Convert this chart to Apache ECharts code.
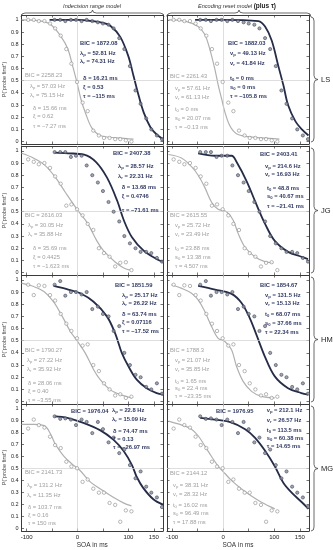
<!DOCTYPE html>
<html><head><meta charset="utf-8">
<script src="https://cdn.jsdelivr.net/npm/echarts@6/dist/echarts.min.js"></script>
<style>html,body{margin:0;padding:0;background:#fff}#c{width:333px;height:550px}</style>
</head><body><div id="c"></div>
<script>
// ---------------- DATA ----------------
const subjects = ['LS', 'JG', 'HM', 'MG'];
const xTickValues = [-100, -50, 0, 50, 100, 150];
const xLabelValues = [-100, 0, 100, 150];
const yTickValues = [0, 0.1, 0.2, 0.3, 0.4, 0.5, 0.6, 0.7, 0.8, 0.9, 1];

// observed proportions (shared by both model columns)
const lsGrayX = [-97,-86,-76,-65,-54,-44,-33,-22,-12,-1,10,20,31,42,52,63,74,84,95,106];
const lsGrayY = [1.0,1.0,0.99,0.99,0.97,0.93,0.87,0.76,0.64,0.49,0.32,0.25,0.09,0.05,0.03,0.03,0.02,0.02,0.01,0.0];
const lsDarkX = [-45,-34,-24,-13,-3,8,18,29,40,50,61,71,82,92,103,114,124,135,145,156,166];
const lsDarkY = [1.0,1.0,0.99,1.0,1.0,0.99,1.0,0.99,0.98,0.97,0.96,0.93,0.85,0.76,0.62,0.42,0.31,0.19,0.10,0.05,0.02];

const jgGrayX = [-97,-86,-76,-65,-54,-44,-33,-22,-12,-1,10,20,31,42,52,63,74,84,95,106];
const jgGrayY = [0.93,0.91,0.89,0.90,0.86,0.79,0.73,0.55,0.56,0.52,0.47,0.40,0.35,0.20,0.16,0.13,0.05,0.08,0.085,0.02];
const jgDarkX = [-45,-34,-24,-13,-3,8,18,29,40,50,61,71,82,92,103,114,124,135,145,156,166];
const jgDarkY = [0.99,0.99,0.99,0.95,0.96,0.96,0.88,0.80,0.74,0.67,0.58,0.50,0.42,0.30,0.24,0.20,0.17,0.17,0.16,0.12,0.09];

const hmGrayX = [-97,-86,-76,-65,-54,-44,-33,-22,-12,-1,10,20,31,42,52,63,74,84,95,106];
const hmGrayY = [0.96,0.875,0.955,0.95,0.875,0.83,0.72,0.64,0.58,0.52,0.46,0.47,0.30,0.25,0.15,0.10,0.05,0.06,0.03,0.04];
const hmDarkX = [-45,-34,-24,-13,-3,8,18,29,40,50,61,71,82,92,103,114,124,135,145,156,166];
const hmDarkY = [0.96,0.99,0.87,0.90,0.90,0.88,0.90,0.76,0.78,0.72,0.70,0.58,0.62,0.40,0.30,0.22,0.20,0.12,0.10,0.15,0.065];

const mgGrayX = [-97,-86,-76,-65,-54,-44,-33,-22,-12,-1,10,20,31,42,52,63,74,84,95,106];
const mgGrayY = [0.835,0.91,0.864,0.843,0.767,0.697,0.672,0.558,0.518,0.504,0.39,0.41,0.333,0.30,0.30,0.214,0.198,0.057,0.152,0.144];
const mgDarkX = [-45,-34,-24,-13,-3,8,18,29,40,50,61,71,82,92,103,114,124,135,145,156,166];
const mgDarkY = [0.937,0.916,0.92,0.91,0.864,0.91,0.89,0.797,0.89,0.83,0.72,0.76,0.63,0.66,0.53,0.42,0.477,0.35,0.30,0.26,0.18];

// fitted curves: [SOA, P]
const lsIrGrayCurve = [[-110,1.0],[-71,0.99],[-52,0.96],[-32,0.86],[-19,0.76],[-9.5,0.62],[-1,0.485],[6.6,0.35],[16,0.23],[29,0.106],[45,0.05],[78,0.03],[110,0.02]];
const lsIrDarkCurve = [[-55,1.0],[0,1.0],[30,0.99],[50,0.975],[65,0.95],[84,0.86],[100,0.70],[110,0.54],[120,0.38],[130,0.24],[143,0.12],[155,0.06],[168,0.02]];
const lsErGrayCurve = [[-107,1.0],[-75,0.99],[-49,0.945],[-36,0.88],[-26,0.756],[-16,0.59],[-9.5,0.46],[-3,0.35],[3.5,0.24],[13,0.13],[26,0.065],[49,0.04],[75,0.03],[110,0.02]];
const lsErDarkCurve = [[-55,1.0],[-3,1.0],[69,0.99],[82,0.945],[95,0.83],[108,0.62],[118,0.46],[127,0.30],[141,0.17],[154,0.10],[167,0.05]];

const jgIrGrayCurve = [[-110,0.98],[-86,0.94],[-65,0.885],[-43,0.78],[-24,0.66],[-1,0.52],[19,0.41],[38,0.26],[51,0.18],[74,0.087],[90,0.04],[103,0.02]];
const jgIrDarkCurve = [[-45,0.985],[-19,0.98],[13,0.97],[36,0.91],[58,0.78],[78,0.59],[91,0.43],[107,0.29],[130,0.18],[156,0.11],[168,0.09]];
const jgErGrayCurve = [[-107,0.97],[-81,0.94],[-62,0.87],[-49,0.80],[-36,0.70],[-23,0.58],[-10,0.52],[6.5,0.50],[19.6,0.43],[29.4,0.32],[42.5,0.21],[62,0.13],[81.6,0.09],[98,0.08]];
const jgErDarkCurve = [[-49,0.98],[-16,0.96],[16.6,0.96],[26,0.91],[46,0.75],[65,0.56],[82,0.40],[101,0.26],[127,0.17],[153,0.13],[166,0.11]];

const hmIrGrayCurve = [[-110,0.973],[-86,0.945],[-66,0.904],[-47,0.82],[-30,0.70],[-14,0.576],[0,0.494],[15,0.40],[32,0.26],[44.6,0.18],[64,0.098],[84,0.057],[107,0.03]];
const hmIrDarkCurve = [[-47,0.95],[-21,0.924],[5.5,0.89],[31.6,0.82],[57.7,0.70],[74,0.56],[87,0.40],[100,0.29],[116.4,0.18],[136,0.11],[155.6,0.07],[168,0.057]];
const hmErGrayCurve = [[-101.5,0.96],[-81,0.93],[-62,0.89],[-49,0.836],[-36,0.74],[-23,0.62],[-9.8,0.52],[3.3,0.494],[16.4,0.426],[26,0.29],[39,0.166],[55.5,0.084],[75,0.043],[101,0.03]];
const hmErDarkCurve = [[-49,0.95],[-16,0.92],[16.4,0.885],[36,0.81],[52,0.686],[65,0.55],[81.6,0.37],[101,0.207],[127,0.11],[153,0.07],[166,0.057]];

const mgIrGrayCurve = [[-110,0.87],[-84,0.87],[-64,0.856],[-53,0.79],[-43,0.70],[-27,0.605],[-11,0.54],[5,0.485],[25,0.39],[45,0.33],[71,0.26],[90,0.215],[106,0.19]];
const mgIrDarkCurve = [[-45,0.937],[-20,0.925],[10,0.885],[45,0.82],[71,0.74],[91,0.645],[107,0.53],[116,0.435],[129,0.34],[149,0.245],[168,0.2]];
const mgErGrayCurve = [[-107,0.897],[-81,0.864],[-62,0.83],[-49,0.775],[-36,0.69],[-22.5,0.60],[-9.6,0.52],[3.5,0.46],[16.6,0.40],[36,0.33],[56,0.27],[75,0.22],[101,0.165]];
const mgErDarkCurve = [[-45,0.925],[-16,0.91],[16.6,0.885],[43,0.83],[62,0.76],[82,0.65],[101,0.52],[118,0.38],[134,0.30],[154,0.22],[167,0.165]];

// parameter annotations (values)
const irLabels = [['BIC',''],['λ','p'],['λ','r'],['δ',''],['ξ',''],['τ','']];
const erLabels = [['BIC',''],['v','p'],['v','r'],['t','0'],['s','0'],['τ','']];
const lsIrDarkText = ['1872.08','52.81 Hz','74.31 Hz','16.21 ms','0.53','−115 ms'];
const lsIrGrayText = ['2258.23','57.03 Hz','75.15 Hz','15.66 ms','0.62','−7.27 ms'];
const lsErDarkText = ['1882.03','49.13 Hz','41.84 Hz','0 ms','0 ms','−105.8 ms'];
const lsErGrayText = ['2261.43','57.61 Hz','61.13 Hz','0 ms','20.07 ms','−0.13 ms'];
const jgIrDarkText = ['2407.38','28.57 Hz','22.31 Hz','13.68 ms','0.4746','−71.61 ms'];
const jgIrGrayText = ['2616.03','30.05 Hz','35.88 Hz','35.69 ms','0.4425','−1.623 ms'];
const jgErDarkText = ['2403.41','214.6 Hz','16.93 Hz','48.8 ms','40.67 ms','−21.41 ms'];
const jgErGrayText = ['2615.55','25.72 Hz','23.49 Hz','23.88 ms','13.38 ms','4.507 ms'];
const hmIrDarkText = ['1851.59','25.17 Hz','26.22 Hz','63.74 ms','0.07116','−17.52 ms'];
const hmIrGrayText = ['1790.27','27.22 Hz','35.92 Hz','28.06 ms','0.40','−3.55 ms'];
const hmErDarkText = ['1854.67','131.5 Hz','15.13 Hz','68.07 ms','37.66 ms','22.34 ms'];
const hmErGrayText = ['1788.3','21.07 Hz','35.85 Hz','1.65 ms','22.4 ms','−23.35 ms'];
const mgIrDarkText = ['1976.04','22.8 Hz','15.09 Hz','74.47 ms','0.13','−26.97 ms'];
const mgIrGrayText = ['2141.73','131.2 Hz','11.35 Hz','103.7 ms','0.16','150 ms'];
const mgErDarkText = ['1976.95','212.1 Hz','26.57 Hz','113.5 ms','60.38 ms','14.65 ms'];
const mgErGrayText = ['2144.12','38.31 Hz','28.32 Hz','16.02 ms','96.49 ms','17.88 ms'];

// ---------------- LAYOUT / STYLE ----------------
const FONT = '"Liberation Sans", Arial, sans-serif';
const DARK = '#252c47', DARK_TXT = '#323a64', GRAY = '#b0b0b0', GRAY_TXT = '#a0a0a0', FRAME = '#3a3a3a';
const colLeft = [21, 167], colW = 142;
const rowTop = [15, 146, 275, 404], rowH = 129;
const X_MIN = -110, X_MAX = 168, Y_MIN = -0.02, Y_MAX = 1.04;

const pointsBySubject = [
  [lsGrayX, lsGrayY, lsDarkX, lsDarkY],
  [jgGrayX, jgGrayY, jgDarkX, jgDarkY],
  [hmGrayX, hmGrayY, hmDarkX, hmDarkY],
  [mgGrayX, mgGrayY, mgDarkX, mgDarkY]
];
const curvesByPanel = [
  [lsIrGrayCurve, lsIrDarkCurve], [lsErGrayCurve, lsErDarkCurve],
  [jgIrGrayCurve, jgIrDarkCurve], [jgErGrayCurve, jgErDarkCurve],
  [hmIrGrayCurve, hmIrDarkCurve], [hmErGrayCurve, hmErDarkCurve],
  [mgIrGrayCurve, mgIrDarkCurve], [mgErGrayCurve, mgErDarkCurve]
];
const textsByPanel = [
  [lsIrDarkText, lsIrGrayText], [lsErDarkText, lsErGrayText],
  [jgIrDarkText, jgIrGrayText], [jgErDarkText, jgErGrayText],
  [hmIrDarkText, hmIrGrayText], [hmErDarkText, hmErGrayText],
  [mgIrDarkText, mgIrGrayText], [mgErDarkText, mgErGrayText]
];
const textPos = [
  [[[80,43.3],[80,53],[80,61.7],[83,78],[83,87],[83,96.7]], [[25,75.7],[30,86.7],[30,95.7],[33,108],[33,116.7],[33,126.7]]],
  [[[228,43],[230,53],[230,63],[230,78],[230,87],[230,96]], [[170,76],[175,88],[175,97],[175,109],[175,118],[175,127]]],
  [[[113,153],[118,166.7],[118,176],[121.7,187.7],[121.7,196.7],[121.7,210.7]], [[25,215],[28,225],[28,234],[33,248],[33,257],[33,266]]],
  [[[260,154],[265,166.7],[265,174.5],[267,188.3],[267,196.7],[267,206.7]], [[170,215],[175,225],[175,234],[175,248],[175,257],[175,266]]],
  [[[115,285],[122,295],[122,303.3],[122,314],[122,322.3],[122,331]], [[25,350],[27,360],[27,369],[28,383],[28,391.7],[28,400]]],
  [[[260,285],[265,295],[265,303.3],[265,314],[265,323],[265,332.7]], [[170,350],[175,360.7],[175,369],[175,381],[175,388],[175,396]]],
  [[[71,411.7],[112,410.7],[112,419],[113,431.7],[113,439],[113,447]], [[25,472.7],[27,485],[27,495],[28,507.7],[28,515],[28,523]]],
  [[[216,411.7],[266.7,410.7],[266.7,420],[266.7,430],[266.7,438.3],[266.7,446.7]], [[170,473.3],[173,485],[173,494],[173,505],[173,513],[173,522.7]]]
];

const grids = [], xAxes = [], yAxes = [], series = [], graphics = [];
const zip = (xs, ys) => xs.map((x, i) => [x, ys[i]]);

for (let r = 0; r < 4; r++) {
  for (let c = 0; c < 2; c++) {
    const pi = r * 2 + c;
    grids.push({ left: colLeft[c], top: rowTop[r], width: colW, height: rowH, containLabel: false });
    const bottomRow = r === 3;
    const tickStyle = { show: true, inside: true, length: 2.5, lineStyle: { color: FRAME, width: 0.7 } };
    xAxes.push({
      type: 'value', gridIndex: pi, position: 'bottom', min: X_MIN, max: X_MAX,
      axisLine: { show: true, onZero: false, lineStyle: { color: FRAME, width: 1 } },
      axisTick: Object.assign({ customValues: xTickValues }, tickStyle),
      axisLabel: { show: bottomRow, customValues: xLabelValues, fontSize: 6, color: '#222', margin: 3, fontFamily: FONT },
      splitLine: { show: false },
      name: bottomRow ? 'SOA in ms' : '', nameLocation: 'middle', nameGap: 11,
      nameTextStyle: { fontSize: 6.5, color: '#333', fontFamily: FONT }
    });
    xAxes.push({
      type: 'value', gridIndex: pi, position: 'top', min: X_MIN, max: X_MAX,
      axisLine: { show: true, onZero: false, lineStyle: { color: FRAME, width: 1 } },
      axisTick: Object.assign({ customValues: xTickValues }, tickStyle),
      axisLabel: { show: false }, splitLine: { show: false }
    });
    yAxes.push({
      type: 'value', gridIndex: pi, position: 'left', min: Y_MIN, max: Y_MAX,
      axisLine: { show: true, onZero: false, lineStyle: { color: FRAME, width: 1 } },
      axisTick: Object.assign({ customValues: yTickValues }, tickStyle),
      axisLabel: { show: c === 0, customValues: yTickValues, fontSize: 5.5, color: '#222', margin: 3, fontFamily: FONT },
      splitLine: { show: false },
      name: c === 0 ? 'P(“probe first”)' : '', nameLocation: 'middle', nameGap: 12, nameRotate: 90,
      nameTextStyle: { fontSize: 5.5, color: '#444', fontFamily: FONT }
    });
    yAxes.push({
      type: 'value', gridIndex: pi, position: 'right', min: Y_MIN, max: Y_MAX,
      axisLine: { show: true, onZero: false, lineStyle: { color: FRAME, width: 1 } },
      axisTick: Object.assign({ customValues: yTickValues }, tickStyle),
      axisLabel: { show: false }, splitLine: { show: false }
    });
    const xi = pi * 2, yi = pi * 2;
    series.push({
      type: 'line', xAxisIndex: xi, yAxisIndex: yi, data: [], z: 1, silent: true,
      markLine: { silent: true, symbol: ['none', 'none'], label: { show: false }, animation: false,
        lineStyle: { color: '#d0d0d0', width: 0.7, type: 'solid' },
        data: [{ xAxis: 0 }, { yAxis: 0.5 }] }
    });
    const [gc, dc] = curvesByPanel[pi];
    series.push({ type: 'line', xAxisIndex: xi, yAxisIndex: yi, data: gc, smooth: 0.35, showSymbol: false, z: 3,
      lineStyle: { color: GRAY, width: 1.2 }, silent: true });
    series.push({ type: 'line', xAxisIndex: xi, yAxisIndex: yi, data: dc, smooth: 0.35, showSymbol: false, z: 4,
      lineStyle: { color: DARK, width: 1.8 }, silent: true });
    const [gx, gy, dx, dy] = pointsBySubject[r];
    series.push({ type: 'scatter', xAxisIndex: xi, yAxisIndex: yi, data: zip(gx, gy), symbol: 'circle', symbolSize: 3.4, z: 5, clip: false,
      itemStyle: { color: '#ffffff', borderColor: '#8f8f8f', borderWidth: 0.8 }, silent: true });
    series.push({ type: 'scatter', xAxisIndex: xi, yAxisIndex: yi, data: zip(dx, dy), symbol: 'circle', symbolSize: 3.2, z: 6, clip: false,
      itemStyle: { color: '#8a8e9a', borderColor: '#3c4155', borderWidth: 0.7 }, silent: true });

    const labels = c === 0 ? irLabels : erLabels;
    const [dTxt, gTxt] = textsByPanel[pi];
    const [dPos, gPos] = textPos[pi];
    [[dTxt, dPos, DARK_TXT, 'bold'], [gTxt, gPos, GRAY_TXT, 'normal']].forEach(([txt, pos, col, wt]) => {
      txt.forEach((val, li) => {
        const [sym, sub] = labels[li];
        const str = sub ? `{m|${sym}}{s|${sub}}{m| = ${val}}` : `{m|${sym} = ${val}}`;
        graphics.push({ type: 'text', x: pos[li][0], y: pos[li][1], silent: true, z: 10,
          style: { text: str, fill: col, align: 'left', verticalAlign: 'middle',
            rich: { m: { fontSize: 5.8, fontFamily: FONT, fontWeight: wt, fill: col },
                    s: { fontSize: 4.2, fontFamily: FONT, fontWeight: wt, fill: col, padding: [3, 0, 0, 0] } } } });
      });
    });
  }
}

// braces built from line + quadratic curve elements
const braceStyle = { stroke: '#444', lineWidth: 0.8, fill: 'none' };
function seg(x1, y1, x2, y2) { graphics.push({ type: 'line', silent: true, shape: { x1, y1, x2, y2 }, style: braceStyle }); }
function qc(x1, y1, cx, cy, x2, y2) { graphics.push({ type: 'bezierCurve', silent: true, shape: { x1, y1, x2, y2, cpx1: cx, cpy1: cy }, style: braceStyle }); }
function hBrace(x1, x2, y) {
  const xm = (x1 + x2) / 2;
  qc(x1, y + 4, x1, y, x1 + 4, y); seg(x1 + 4, y, xm - 4, y);
  qc(xm - 4, y, xm, y, xm, y - 3); qc(xm, y - 3, xm, y, xm + 4, y);
  seg(xm + 4, y, x2 - 4, y); qc(x2 - 4, y, x2, y, x2, y + 4);
}
function vBrace(x, y1, y2) {
  const ym = (y1 + y2) / 2;
  qc(x - 3, y1, x, y1, x, y1 + 4); seg(x, y1 + 4, x, ym - 4);
  qc(x, ym - 4, x, ym, x + 4, ym); qc(x + 4, ym, x, ym, x, ym + 4);
  seg(x, ym + 4, x, y2 - 4); qc(x, y2 - 4, x, y2, x - 3, y2);
}
hBrace(21, 164, 13);
hBrace(167, 311, 13);
graphics.push({ type: 'text', x: 92, y: 6, silent: true, style: { text: 'Indecision range model', fill: '#333', align: 'center', verticalAlign: 'middle', fontSize: 5.6, fontStyle: 'italic', fontFamily: FONT } });
graphics.push({ type: 'text', x: 237, y: 6, silent: true, style: { text: '{i|Encoding reset model }{b|(plus τ)}', fill: '#333', align: 'center', verticalAlign: 'middle',
  rich: { i: { fontSize: 5.6, fontStyle: 'italic', fontFamily: FONT, fill: '#333' }, b: { fontSize: 6.5, fontWeight: 'bold', fontFamily: FONT, fill: '#222' } } } });
for (let r = 0; r < 4; r++) {
  const y1 = rowTop[r] + 2, y2 = rowTop[r] + rowH - 2;
  vBrace(314, y1, y2);
  graphics.push({ type: 'text', x: 321, y: (y1 + y2) / 2, silent: true, style: { text: subjects[r], fill: '#222', align: 'left', verticalAlign: 'middle', fontSize: 7.5, fontFamily: FONT } });
}

const chart = echarts.init(document.getElementById('c'), null, { renderer: 'canvas' });
chart.setOption({ animation: false, backgroundColor: '#fff', grid: grids, xAxis: xAxes, yAxis: yAxes, series: series, graphic: graphics });
</script></body></html>
